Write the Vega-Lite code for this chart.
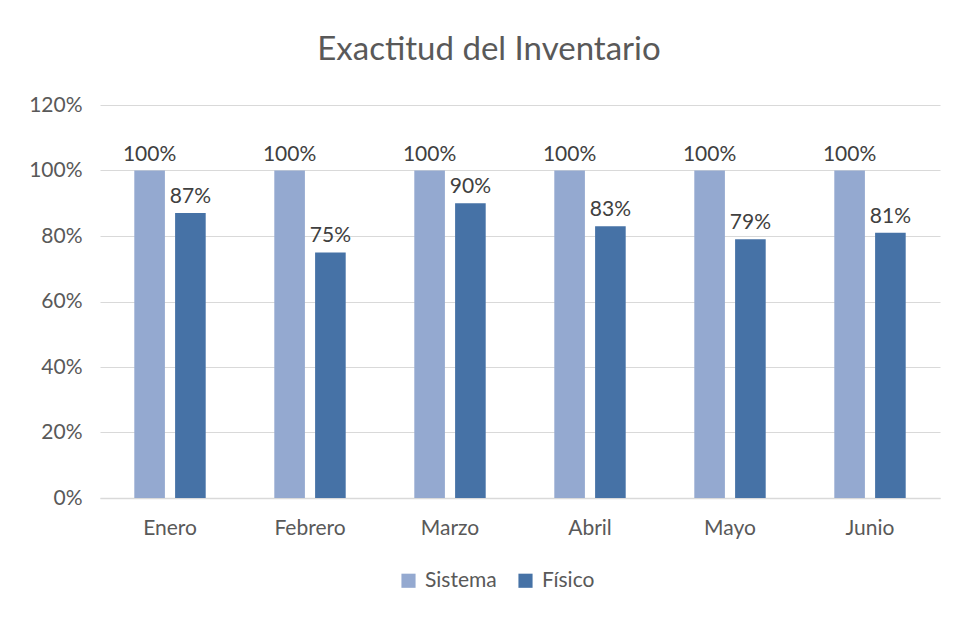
{
  "$schema": "https://vega.github.io/schema/vega-lite/v6.json",
  "width": 840,
  "height": 393,
  "autosize": "none",
  "padding": {"left": 100, "top": 105, "right": 20, "bottom": 120},
  "background": "white",
  "title": {"text": "Exactitud del Inventario", "fontSize": 33, "font": "Lato", "fontWeight": "normal", "color": "#595959", "offset": 27, "dx": -31},
  "config": {"view": {"stroke": null}, "font": "Lato"},
  "data": {"values": [
    {"mes": "Enero", "serie": "Sistema", "valor": 1.00},
    {"mes": "Enero", "serie": "Físico", "valor": 0.87},
    {"mes": "Febrero", "serie": "Sistema", "valor": 1.00},
    {"mes": "Febrero", "serie": "Físico", "valor": 0.75},
    {"mes": "Marzo", "serie": "Sistema", "valor": 1.00},
    {"mes": "Marzo", "serie": "Físico", "valor": 0.90},
    {"mes": "Abril", "serie": "Sistema", "valor": 1.00},
    {"mes": "Abril", "serie": "Físico", "valor": 0.83},
    {"mes": "Mayo", "serie": "Sistema", "valor": 1.00},
    {"mes": "Mayo", "serie": "Físico", "valor": 0.79},
    {"mes": "Junio", "serie": "Sistema", "valor": 1.00},
    {"mes": "Junio", "serie": "Físico", "valor": 0.81}
  ]},
  "encoding": {
    "x": {"field": "mes", "type": "nominal", "sort": ["Enero", "Febrero", "Marzo", "Abril", "Mayo", "Junio"],
      "scale": {"paddingInner": 0.49, "paddingOuter": 0.245},
      "axis": {"title": null, "labelAngle": 0, "labelFontSize": 21, "labelColor": "#595959", "labelPadding": 19, "ticks": false, "domainColor": "#d9d9d9", "domainWidth": 1.5, "labelFont": "Lato"}},
    "xOffset": {"field": "serie", "type": "nominal", "sort": ["Sistema", "Físico"], "scale": {"paddingInner": 0.25}},
    "y": {"field": "valor", "type": "quantitative",
      "scale": {"domain": [0, 1.2], "nice": false},
      "axis": {"title": null, "format": ".0%", "values": [0, 0.2, 0.4, 0.6, 0.8, 1.0, 1.2], "labelFontSize": 21, "labelColor": "#595959", "labelPadding": 18, "ticks": false, "domain": false, "gridColor": "#d9d9d9", "gridWidth": 1.2, "labelFont": "Lato"}}
  },
  "layer": [
    {"mark": {"type": "bar"},
     "encoding": {"color": {"field": "serie", "type": "nominal", "sort": ["Sistema", "Físico"],
       "scale": {"domain": ["Sistema", "Físico"], "range": ["#94A9D0", "#4672A6"]},
       "legend": {"title": null, "orient": "none", "legendX": 298, "legendY": 465, "direction": "horizontal", "symbolType": "square", "symbolSize": 200, "symbolStrokeWidth": 0, "labelFontSize": 21, "labelColor": "#595959", "labelFont": "Lato", "columnPadding": 18, "labelOffset": 6}}}},
    {"mark": {"type": "text", "baseline": "bottom", "dy": -6, "fontSize": 21, "color": "#404040", "font": "Lato"},
     "encoding": {"text": {"field": "valor", "type": "quantitative", "format": ".0%"}}}
  ]
}
